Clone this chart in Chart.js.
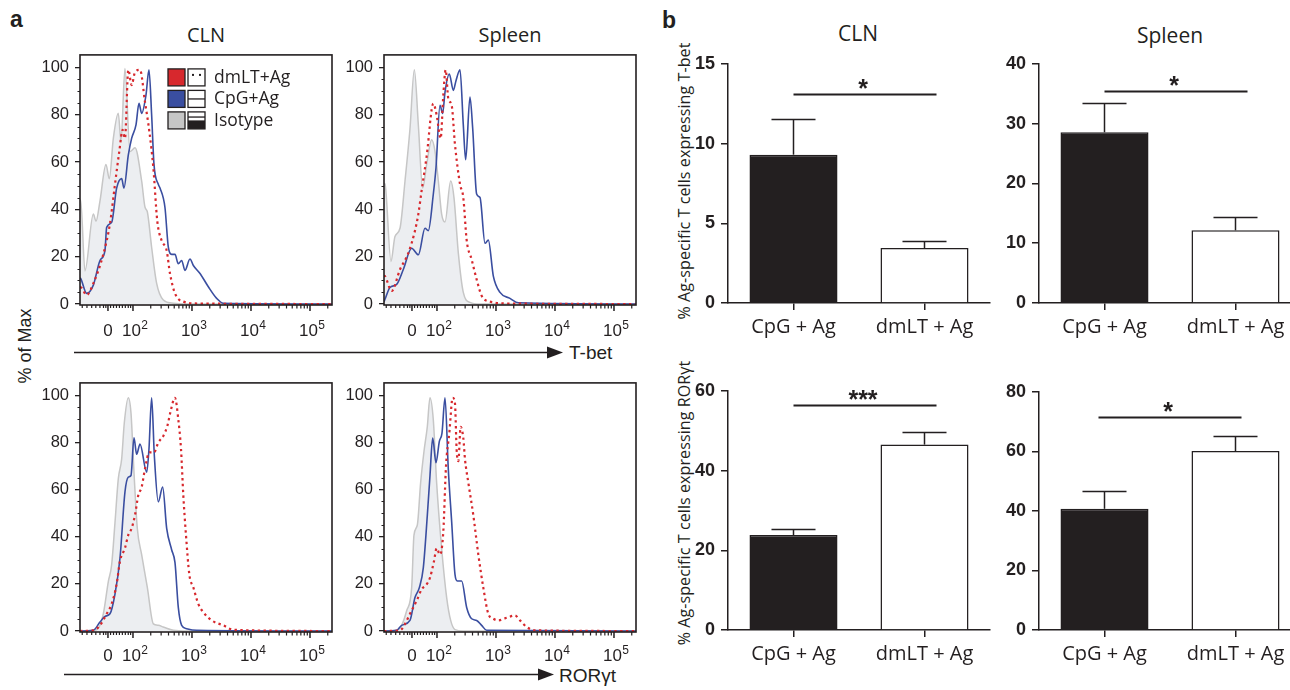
<!DOCTYPE html>
<html><head><meta charset="utf-8">
<script src="https://cdn.jsdelivr.net/npm/chart.js@4.4.1/dist/chart.umd.min.js"></script>
<style>
html,body{margin:0;padding:0;background:#fff;width:1290px;height:690px;overflow:hidden;position:relative;}
canvas{position:absolute;}
.t{position:absolute;white-space:nowrap;color:#231f20;line-height:1;}
.hum{font-family:"Open Sans",sans-serif;}
.ari{font-family:"Liberation Sans",Arial,sans-serif;}
.rot{transform:translate(-50%,-50%) rotate(-90deg);}
.ctr{transform:translate(-50%,-50%);}
</style></head><body>

<div class="t ari" style="left:10px;top:8px;font-size:23px;font-weight:bold;">a</div>
<div class="t ari" style="left:662px;top:9px;font-size:23px;font-weight:bold;">b</div>

<div class="t hum ctr" style="left:206px;top:35px;font-size:20px;">CLN</div>
<div class="t hum ctr" style="left:510px;top:35px;font-size:20px;">Spleen</div>
<div class="t hum ctr" style="left:858px;top:33px;font-size:21px;">CLN</div>
<div class="t hum ctr" style="left:1170px;top:35px;font-size:21px;">Spleen</div>

<div class="t ari rot" style="left:25px;top:346px;font-size:18px;">% of Max</div>
<div class="t hum rot" style="left:684px;top:181px;font-size:16px;letter-spacing:0.1px;">% Ag-specific T cells expressing T-bet</div>
<div class="t hum rot" style="left:684px;top:503px;font-size:16px;letter-spacing:0.1px;">% Ag-specific T cells expressing ROR&gamma;t</div>

<div class="t ari" style="left:569px;top:343px;font-size:19px;">T-bet</div>
<div class="t ari" style="left:559px;top:666px;font-size:19px;">ROR&gamma;t</div>

<svg style="position:absolute;left:0;top:0" width="1290" height="690">
  <line x1="74" y1="352.5" x2="552" y2="352.5" stroke="#231f20" stroke-width="1.5"/>
  <polygon points="563,352.5 547,346.5 547,358.5" fill="#231f20"/>
  <line x1="64" y1="674.5" x2="543" y2="674.5" stroke="#231f20" stroke-width="1.5"/>
  <polygon points="554,674.5 538,668.5 538,680.5" fill="#231f20"/>
</svg>

<canvas id="h1"></canvas><canvas id="h2"></canvas><canvas id="h3"></canvas><canvas id="h4"></canvas>
<canvas id="b1"></canvas><canvas id="b2"></canvas><canvas id="b3"></canvas><canvas id="b4"></canvas>

<script>
// ---------------- DATA ----------------
// Histogram x values are in display-axis units (decades of the biexponential axis: 2 = 10^2, 3 = 10^3 ...)
const histTickValues = [1.576, 2, 3, 4, 5];
const histTickBase   = ['0', '10', '10', '10', '10'];
const histTickExp    = ['', '2', '3', '4', '5'];
const histYTicks     = [0, 20, 40, 60, 80, 100];
const legendLabels   = ['dmLT+Ag', 'CpG+Ag', 'Isotype'];

// Panel a, T-bet, CLN
const tbetCLN_iso_x  = [1.102,1.113,1.186,1.328,1.373,1.441,1.542,1.599,1.667,1.751,1.797,1.864,1.949,2.034,2.147,2.203,2.243,2.316,2.401,2.514,2.684,2.910,5.37];
const tbetCLN_iso_y  = [44,44,14,38,35,43.6,59,53,70,80.6,68.7,99.5,64.5,66,52,41,39,24,8.7,1.7,0.3,0,0];
const tbetCLN_dm_x   = [1.102,1.113,1.215,1.328,1.497,1.610,1.695,1.768,1.825,1.864,1.921,1.977,2.034,2.119,2.203,2.277,2.345,2.412,2.486,2.571,2.627,2.712,2.853,3.136,5.37];
const tbetCLN_dm_y   = [7,7,3.8,8.7,21,34,50.6,64.5,73.6,70,99,92.5,98,99,85.5,73,57.6,35,26.8,22.6,12.9,4.5,1,0.2,0];
const tbetCLN_cpg_x  = [1.102,1.113,1.215,1.328,1.441,1.525,1.554,1.638,1.723,1.808,1.847,1.921,1.977,2.051,2.102,2.147,2.220,2.271,2.316,2.356,2.429,2.458,2.542,2.599,2.655,2.712,2.768,2.825,2.881,2.966,3.023,3.136,3.277,3.418,3.531,5.37];
const tbetCLN_cpg_y  = [11,10.8,4.5,8,18.4,22.6,32.4,34.5,49,53,49,63,70,75.7,84.8,80.6,88.3,99,80,59,50.6,49,40.8,24,21,21,17,18.4,14.2,19,16.3,12.9,7.3,2.4,0.3,0];

// Panel a, T-bet, Spleen
const tbetSPL_iso_x  = [1.102,1.119,1.220,1.288,1.373,1.458,1.542,1.616,1.684,1.757,1.825,1.910,1.966,2.023,2.079,2.136,2.232,2.288,2.362,2.446,2.559,2.729,5.37];
const tbetSPL_iso_y  = [51,50.7,18,28.5,32,52,74,99,75.7,49,59,69.4,64.6,52,38,34.7,52,45,21.5,4.9,0.7,0,0];
const tbetSPL_dm_x   = [1.102,1.119,1.232,1.373,1.514,1.627,1.684,1.740,1.825,1.938,1.994,2.062,2.107,2.147,2.192,2.249,2.305,2.390,2.446,2.503,2.588,2.672,2.757,2.898,3.237,5.37];
const tbetSPL_dm_y   = [12,11.8,5.5,14.6,21.5,31,38,48,62.5,84.7,79.9,70,88.2,99,86.8,84,67.4,50.7,45,27,18.75,10.4,3.5,1,0.2,0];
const tbetSPL_cpg_x  = [1.102,1.119,1.203,1.316,1.429,1.571,1.684,1.797,1.853,1.938,1.983,2.051,2.096,2.136,2.209,2.277,2.322,2.390,2.446,2.486,2.559,2.605,2.672,2.729,2.814,2.870,2.955,3.068,3.237,3.379,5.37];
const tbetSPL_cpg_y  = [1,2,7,8.3,14.6,23.6,20.8,32,31,46.5,57.6,84,80.5,89.6,97.2,90.3,94.4,99,75.7,61,87.5,74.3,46.5,45,25.7,27,11.8,4.9,2.4,0.5,0];

// Panel a, RORgt, CLN
const rorCLN_iso_x   = [1.102,1.384,1.497,1.582,1.638,1.695,1.751,1.808,1.853,1.921,1.966,2.017,2.073,2.147,2.243,2.345,2.429,2.514,2.684,2.910,5.37];
const rorCLN_iso_y   = [0,0.5,7.3,21,28,46,64.6,73,88.4,99,92.6,67.4,43.6,32.4,18.5,3,2.4,1.7,0.3,0,0];
const rorCLN_dm_x    = [1.102,1.328,1.441,1.554,1.638,1.723,1.780,1.864,1.921,1.977,2.034,2.090,2.147,2.203,2.277,2.356,2.429,2.514,2.582,2.638,2.712,2.768,2.814,2.853,2.898,2.955,3.023,3.107,3.192,3.333,3.531,3.701,5.37];
const rorCLN_dm_y    = [0,0.3,2.4,7.3,11.5,19.9,29.7,35.2,40.8,43.6,49.2,57.6,61.1,68.8,75.8,75.8,80,82.8,87,93.3,99,89.8,77.2,57.6,40.8,24,18.5,11.5,8,4.5,2.4,0.5,0];
const rorCLN_cpg_x   = [1.102,1.328,1.441,1.525,1.610,1.695,1.780,1.864,1.921,1.966,2.017,2.062,2.119,2.232,2.271,2.316,2.362,2.429,2.503,2.571,2.655,2.712,2.768,2.825,2.910,3.079,5.37];
const rorCLN_cpg_y   = [0,0.3,3.8,6.2,7.3,15.7,31,59,65.3,66,82,75,79.3,67.4,77.2,99,74.4,54.8,61.1,43.6,34.5,29,10,2.4,1,0.3,0];

// Panel a, RORgt, Spleen
const rorSPL_iso_x   = [1.102,1.316,1.401,1.486,1.571,1.610,1.667,1.723,1.780,1.836,1.881,1.938,1.994,2.079,2.164,2.232,2.305,2.446,5.37];
const rorSPL_iso_y   = [0,0.3,2.4,8.6,18.4,40.7,45,63,76.3,86.7,99,89.5,63,35,14.2,4.5,0.6,0,0];
const rorSPL_dm_x    = [1.102,1.373,1.458,1.542,1.655,1.740,1.825,1.881,1.949,1.994,2.051,2.107,2.153,2.209,2.266,2.305,2.333,2.362,2.401,2.446,2.475,2.531,2.616,2.701,2.785,2.870,2.955,3.040,3.181,3.322,3.407,3.520,3.661,5.37];
const rorSPL_dm_y    = [0,0.3,3,7.3,12.8,17.7,19.8,22.6,29.6,35.1,32.4,42.1,70,84,99,96.5,77,72.1,86.7,81.9,72.8,63,49.1,32.4,18.4,7.3,5.2,4.5,5.6,6.6,4.5,1.7,0.3,0];
const rorSPL_cpg_x   = [1.102,1.316,1.401,1.542,1.627,1.701,1.768,1.836,1.881,1.927,1.983,2.040,2.085,2.136,2.192,2.249,2.305,2.345,2.418,2.503,2.588,2.672,2.757,2.842,5.37];
const rorSPL_cpg_y   = [0,0.3,2.4,4.5,14.2,18.4,26.8,49,65.8,81.9,71.4,80.5,84,99,68.6,46.3,24,21.2,21.2,10,5.2,4.5,2.4,0.3,0];

// Panel b, bar charts
const groups         = ['CpG + Ag', 'dmLT + Ag'];
const tbetCLN_mean   = [9.3, 3.45];
const tbetCLN_upper  = [11.55, 3.9];
const tbetSPL_mean   = [28.55, 12.15];
const tbetSPL_upper  = [33.5, 14.4];
const rorCLN_mean    = [23.8, 46.5];
const rorCLN_upper   = [25.3, 49.7];
const rorSPL_mean    = [40.7, 60.1];
const rorSPL_upper   = [46.6, 65.0];
const sigLevels      = [13.12, 35.5, 56.4, 71.4];
const sigMarks       = ['*', '*', '***', '*'];

// ---------------- STYLE ----------------
const INK = '#231f20';
const RED = '#d7282d';
const BLUE = '#3a4ea0';
const GREY = '#c6c6c6';
const GREY_FILL = '#eceef1';

function pts(xs, ys) { return xs.map((x, i) => ({x, y: ys[i]})); }

function placeCanvas(id, left, top, w, h) {
  const c = document.getElementById(id);
  c.width = w; c.height = h;
  c.style.left = left + 'px'; c.style.top = top + 'px';
  c.style.width = w + 'px'; c.style.height = h + 'px';
  return c;
}

const histDecor = {
  id: 'histDecor',
  afterDraw(chart) {
    const {ctx, chartArea: a, scales: {x, y}} = chart;
    const o = chart.options.plugins.histDecor;
    ctx.save();
    ctx.strokeStyle = INK;
    // y minor ticks
    ctx.lineWidth = 1;
    for (let v = 5; v < 105; v += 5) {
      if (v % 20 === 0) continue;
      const py = Math.round(y.getPixelForValue(v)) + 0.5;
      ctx.beginPath(); ctx.moveTo(a.left - 2.5, py); ctx.lineTo(a.left, py); ctx.stroke();
    }
    // x ticks: linear region minor ticks
    const linMinor = [1.14, 1.22, 1.30, 1.37, 1.44, 1.50, 1.54, 1.62, 1.67, 1.72, 1.77, 1.82, 1.87, 1.92, 1.96];
    ctx.lineWidth = 1.2;
    linMinor.forEach(v => {
      const px = x.getPixelForValue(v);
      ctx.beginPath(); ctx.moveTo(px, a.bottom); ctx.lineTo(px, a.bottom + 3); ctx.stroke();
    });
    for (let k = 2; k <= 5; k++) {
      for (let m = 2; m <= 9; m++) {
        const v = k + Math.log10(m);
        if (v > x.max) continue;
        const px = x.getPixelForValue(v);
        ctx.beginPath(); ctx.moveTo(px, a.bottom); ctx.lineTo(px, a.bottom + 3.5); ctx.stroke();
      }
    }
    ctx.lineWidth = 1.5;
    histTickValues.forEach(v => {
      const px = x.getPixelForValue(v);
      ctx.beginPath(); ctx.moveTo(px, a.bottom); ctx.lineTo(px, a.bottom + 6); ctx.stroke();
    });
    // x labels with superscripts
    ctx.fillStyle = INK;
    ctx.textBaseline = 'alphabetic';
    const BF = '17px "Liberation Sans", Arial, sans-serif';
    const EF = '12px "Liberation Sans", Arial, sans-serif';
    histTickValues.forEach((v, i) => {
      const px = x.getPixelForValue(v);
      ctx.font = BF;
      const bw = ctx.measureText(histTickBase[i]).width;
      ctx.font = EF;
      const ew = histTickExp[i] ? ctx.measureText(histTickExp[i]).width + 0.5 : 0;
      const x0 = px - (bw + ew) / 2 + (i === 0 ? 0 : 2);
      const by = a.bottom + o.labelOffset;
      ctx.font = BF;
      ctx.textAlign = 'left';
      ctx.fillText(histTickBase[i], x0, by);
      if (histTickExp[i]) {
        ctx.font = EF;
        ctx.fillText(histTickExp[i], x0 + bw + 0.5, by - 7.5);
      }
    });
    // frame
    ctx.lineWidth = 1.6;
    ctx.strokeRect(a.left, a.top, a.right - a.left, a.bottom - a.top);
    // legend
    if (o.legend) {
      const lx = a.left + 88, ly = a.top + 14, s = 17, pitch = 21.5;
      const fills = [RED, BLUE, GREY];
      ctx.font = '17.5px "Open Sans", sans-serif';
      ctx.textBaseline = 'middle';
      ctx.textAlign = 'left';
      for (let r = 0; r < 3; r++) {
        const yy = ly + r * pitch;
        ctx.fillStyle = fills[r];
        ctx.fillRect(lx, yy, s, s);
        ctx.lineWidth = 1.3; ctx.strokeStyle = INK;
        ctx.strokeRect(lx, yy, s, s);
        const x2 = lx + s + 3;
        ctx.fillStyle = '#fff';
        ctx.fillRect(x2, yy, s, s);
        ctx.strokeRect(x2, yy, s, s);
        ctx.fillStyle = INK;
        if (r === 0) {
          ctx.fillRect(x2 + 4, yy + 5, 2, 2);
          ctx.fillRect(x2 + 11, yy + 5, 2, 2);
        } else if (r === 1) {
          ctx.fillRect(x2, yy + s / 2 - 0.6, s, 1.3);
        } else {
          ctx.fillRect(x2, yy + 4.5, s, 1.3);
          ctx.fillRect(x2, yy + s / 2, s, s / 2);
        }
        ctx.fillStyle = INK;
        ctx.fillText(legendLabels[r], lx + 46, yy + s / 2 + 0.5);
      }
    }
    ctx.restore();
  }
};

function makeHist(id, frameL, frameT, frameR, frameB, sets, legend, labelOffset) {
  const padL = 60, padT = 14, padR = 8, padB = 42;
  const w = (frameR - frameL) + padL + padR, h = (frameB - frameT) + padT + padB;
  const c = placeCanvas(id, frameL - padL, frameT - padT, w, h);
  new Chart(c, {
    type: 'line',
    data: {
      datasets: [
        {label: legendLabels[0], data: pts(sets[0][0], sets[0][1]), borderColor: RED, borderWidth: 2.2, borderDash: [2.4, 3.4], fill: false},
        {label: legendLabels[1], data: pts(sets[1][0], sets[1][1]), borderColor: BLUE, borderWidth: 1.6, fill: false},
        {label: legendLabels[2], data: pts(sets[2][0], sets[2][1]), borderColor: GREY, borderWidth: 1.5, backgroundColor: GREY_FILL, fill: 'origin'}
      ]
    },
    options: {
      responsive: false, animation: false, devicePixelRatio: 1,
      layout: {padding: {left: 0, top: padT, right: padR, bottom: 0}},
      elements: {point: {radius: 0}, line: {cubicInterpolationMode: 'monotone'}},
      plugins: {legend: {display: false}, tooltip: {enabled: false}, histDecor: {legend, labelOffset}},
      scales: {
        x: {type: 'linear', min: 1.102, max: 5.373,
            grid: {display: false}, border: {display: false}, ticks: {display: false},
            afterFit: s => { s.height = padB; }},
        y: {type: 'linear', min: -0.42, max: 105.3,
            afterBuildTicks: s => { s.ticks = histYTicks.map(v => ({value: v})); },
            grid: {drawOnChartArea: false, drawTicks: true, tickLength: 5, color: INK, lineWidth: 1.3},
            border: {display: false},
            ticks: {color: INK, padding: 6, font: {family: '"Liberation Sans", Arial, sans-serif', size: 16.5}},
            afterFit: s => { s.width = padL; }}
      }
    },
    plugins: [histDecor]
  });
}

makeHist('h1', 80, 53, 332, 305, [[tbetCLN_dm_x, tbetCLN_dm_y], [tbetCLN_cpg_x, tbetCLN_cpg_y], [tbetCLN_iso_x, tbetCLN_iso_y]], true, 31);
makeHist('h2', 384, 53, 636, 305, [[tbetSPL_dm_x, tbetSPL_dm_y], [tbetSPL_cpg_x, tbetSPL_cpg_y], [tbetSPL_iso_x, tbetSPL_iso_y]], false, 31);
makeHist('h3', 80, 381, 332, 632, [[rorCLN_dm_x, rorCLN_dm_y], [rorCLN_cpg_x, rorCLN_cpg_y], [rorCLN_iso_x, rorCLN_iso_y]], false, 29);
makeHist('h4', 384, 381, 636, 632, [[rorSPL_dm_x, rorSPL_dm_y], [rorSPL_cpg_x, rorSPL_cpg_y], [rorSPL_iso_x, rorSPL_iso_y]], false, 29);

const barDecor = {
  id: 'barDecor',
  afterDatasetsDraw(chart) {
    const {ctx, scales: {x, y}} = chart;
    const o = chart.options.plugins.barDecor;
    const meta = chart.getDatasetMeta(0);
    ctx.save();
    ctx.strokeStyle = INK; ctx.lineWidth = 1.5;
    o.upper.forEach((u, i) => {
      const el = meta.data[i];
      const cx = el.x;
      const half = el.width / 4;
      const yTop = y.getPixelForValue(o.mean[i]);
      const yU = Math.round(y.getPixelForValue(u)) + 0.5;
      ctx.beginPath(); ctx.moveTo(cx, yTop); ctx.lineTo(cx, yU); ctx.stroke();
      ctx.beginPath(); ctx.moveTo(cx - half, yU); ctx.lineTo(cx + half, yU); ctx.stroke();
    });
    const sy = Math.round(y.getPixelForValue(o.sig)) + 0.5;
    const x1 = x.getPixelForValue(0) + o.sigFrom, x2 = x.getPixelForValue(1) + o.sigTo;
    ctx.lineWidth = 1.8;
    ctx.beginPath(); ctx.moveTo(x1, sy); ctx.lineTo(x2, sy); ctx.stroke();
    ctx.fillStyle = INK;
    ctx.font = 'bold 25px "Liberation Sans", Arial, sans-serif';
    ctx.textAlign = 'center'; ctx.textBaseline = 'alphabetic';
    ctx.fillText(o.mark, (x1 + x2) / 2 - 2, sy + 2);
    ctx.restore();
  }
};

function makeBar(id, areaL, areaT, areaR, areaB, mean, upper, ymax, step, sig, mark, sigFrom, sigTo) {
  const padL = 55, padT = 14, padR = 10, padB = 45;
  const w = (areaR - areaL) + padL + padR, h = (areaB - areaT) + padT + padB;
  const c = placeCanvas(id, areaL - padL, areaT - padT, w, h);
  new Chart(c, {
    type: 'bar',
    data: {
      labels: groups,
      datasets: [{data: mean, backgroundColor: [INK, '#ffffff'], borderColor: INK, borderWidth: 1.5,
                  categoryPercentage: 1, barPercentage: 0.672, borderSkipped: 'bottom'}]
    },
    options: {
      responsive: false, animation: false, devicePixelRatio: 1,
      layout: {padding: {left: 0, top: padT, right: padR, bottom: 0}},
      plugins: {legend: {display: false}, tooltip: {enabled: false},
                barDecor: {mean, upper, sig, mark, sigFrom, sigTo}},
      scales: {
        x: {type: 'category', offset: true,
            grid: {display: true, offset: false, drawOnChartArea: false, drawTicks: true, tickLength: 7, color: INK, lineWidth: 1.5},
            border: {display: true, color: INK, width: 1.5},
            ticks: {color: INK, padding: 5, maxRotation: 0, font: {family: '"Open Sans", sans-serif', size: 20}},
            afterFit: s => { s.height = padB; }},
        y: {type: 'linear', min: 0, max: ymax,
            ticks: {stepSize: step, color: INK, padding: 6, font: {family: '"Liberation Sans", Arial, sans-serif', size: 18, weight: 'bold'}},
            grid: {drawOnChartArea: false, drawTicks: true, tickLength: 7, color: INK, lineWidth: 1.5},
            border: {display: true, color: INK, width: 1.5},
            afterFit: s => { s.width = padL; }}
      }
    },
    plugins: [barDecor]
  });
}

makeBar('b1', 728, 61, 990, 303, tbetCLN_mean, tbetCLN_upper, 15, 5, sigLevels[0], sigMarks[0], 0, 12);
makeBar('b2', 1039, 61, 1301, 303, tbetSPL_mean, tbetSPL_upper, 40, 10, sigLevels[1], sigMarks[1], 0, 12);
makeBar('b3', 728, 388, 990, 630, rorCLN_mean, rorCLN_upper, 60, 20, sigLevels[2], sigMarks[2], 0, 12);
makeBar('b4', 1039, 389, 1301, 630, rorSPL_mean, rorSPL_upper, 80, 20, sigLevels[3], sigMarks[3], -6, 6);
</script>
</body></html>
